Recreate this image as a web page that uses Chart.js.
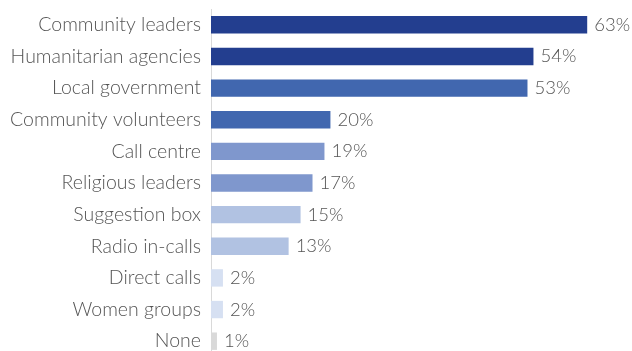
<!DOCTYPE html>
<html>
<head>
<meta charset="utf-8">
<script src="https://cdn.jsdelivr.net/npm/chart.js@4/dist/chart.umd.min.js"></script>
<style>
  html, body { margin: 0; padding: 0; background: #ffffff; width: 632px; height: 351px; overflow: hidden; }
  #wrap { width: 632px; height: 357px; }
</style>
</head>
<body>
<div id="wrap"><canvas id="c" width="632" height="357"></canvas></div>
<script>
// Feedback channels and share of respondents (%)
const categories = [
  'Community leaders', 'Humanitarian agencies', 'Local government',
  'Community volunteers', 'Call centre', 'Religious leaders',
  'Suggestion box', 'Radio in-calls', 'Direct calls', 'Women groups', 'None'
];
const shares = [63, 54, 53, 20, 19, 17, 15, 13, 2, 2, 1];
const barColors = [
  '#233E8F', '#233E8F', '#4167AF', '#4167AF', '#7F97CD', '#7F97CD',
  '#B1C2E2', '#B1C2E2', '#D6E0F2', '#D6E0F2', '#D9D9D9'
];

const FONT = 'Lato, "Open Sans", sans-serif';
const WEIGHT = '300';
const TEXT = '#555555';

// Writes the percentage at the end of each bar
const valueLabels = {
  id: 'valueLabels',
  afterDatasetsDraw(chart) {
    const ctx = chart.ctx;
    const meta = chart.getDatasetMeta(0);
    const xs = chart.scales.x;
    ctx.save();
    ctx.font = WEIGHT + ' 18.5px ' + FONT;
    ctx.fillStyle = TEXT;
    ctx.textAlign = 'left';
    ctx.textBaseline = 'middle';
    meta.data.forEach((bar, i) => {
      const v = chart.data.datasets[0].data[i];
      ctx.fillText(v + '%', xs.getPixelForValue(v) + 7, bar.y);
    });
    ctx.restore();
  }
};

new Chart(document.getElementById('c'), {
  type: 'bar',
  data: {
    labels: categories,
    datasets: [{
      data: shares,
      backgroundColor: barColors,
      borderWidth: 0,
      categoryPercentage: 1,
      barPercentage: 0.55
    }]
  },
  options: {
    indexAxis: 'y',
    responsive: false,
    animation: false,
    layout: { padding: { top: 9, right: 3, bottom: 0, left: 0 } },
    plugins: { legend: { display: false }, tooltip: { enabled: false } },
    scales: {
      x: { display: false, min: 0, max: 70 },
      y: {
        grid: { display: false, drawTicks: false },
        border: { display: true, color: '#D9D9D9', width: 1 },
        ticks: { color: TEXT, font: { family: FONT, size: 19.5, weight: WEIGHT }, padding: 10 },
        afterFit(scale) {
          scale.width = 211;
          scale.paddingTop = 0;
          scale.paddingBottom = 0;
        }
      }
    }
  },
  plugins: [valueLabels]
});
</script>
</body>
</html>
